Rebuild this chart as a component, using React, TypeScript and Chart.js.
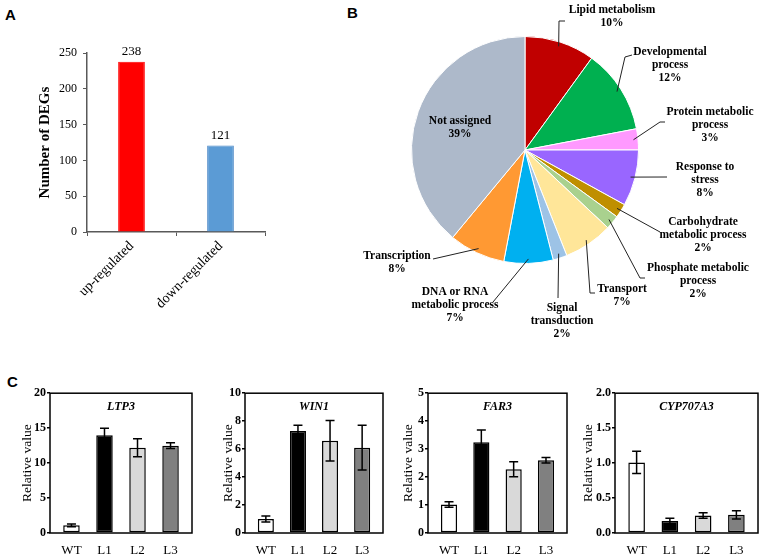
import { useEffect, useRef } from "react";
import { Chart, registerables } from "chart.js";

Chart.register(...registerables);

const SERIF = "'Liberation Serif', 'Times New Roman', serif";
const SANS = "'Liberation Sans', Arial, sans-serif";
Chart.defaults.font.family = SERIF;
Chart.defaults.color = "#000";

// ---------- Panel A: number of DEGs ----------
const degCategories = ["up-regulated", "down-regulated"];
const degCounts = [238, 121];
const degColors = ["#FF0000", "#5B9BD5"];
const degBorderColors = ["#FF0000", "#4A86C5"];
const degAxisMax = 250;
const degAxisStep = 50;

// ---------- Panel B: GO categories ----------
const goNames = [
  "Lipid metabolism",
  "Developmental process",
  "Protein metabolic process",
  "Response to stress",
  "Carbohydrate metabolic process",
  "Phosphate metabolic process",
  "Transport",
  "Signal transduction",
  "DNA or RNA metabolic process",
  "Transcription",
  "Not assigned",
];
const goPercents = [10, 12, 3, 8, 2, 2, 7, 2, 7, 8, 39];
const goColors = [
  "#C00000",
  "#00B050",
  "#FF99FF",
  "#9966FF",
  "#BF8F00",
  "#A9D18E",
  "#FFE699",
  "#9DC3E6",
  "#00B0F0",
  "#FF9933",
  "#ADB9CA",
];
const goLabelLines = [
  ["Lipid metabolism"],
  ["Developmental", "process"],
  ["Protein metabolic", "process"],
  ["Response to", "stress"],
  ["Carbohydrate", "metabolic process"],
  ["Phosphate metabolic", "process"],
  ["Transport"],
  ["Signal", "transduction"],
  ["DNA or RNA", "metabolic process"],
  ["Transcription"],
  ["Not assigned"],
];

// ---------- Panel C: qRT-PCR ----------
const qpcrSamples = ["WT", "L1", "L2", "L3"];
const qpcrColors = ["#FFFFFF", "#000000", "#D9D9D9", "#808080"];
const qpcrGenes = ["LTP3", "WIN1", "FAR3", "CYP707A3"];
const ltp3Means = [1.1, 14.0, 12.2, 12.5];
const ltp3Errors = [0.2, 1.0, 1.3, 0.4];
const win1Means = [1.0, 7.3, 6.6, 6.1];
const win1Errors = [0.22, 0.4, 1.45, 1.6];
const far3Means = [1.02, 3.25, 2.28, 2.6];
const far3Errors = [0.1, 0.43, 0.27, 0.1];
const cyp707a3Means = [1.01, 0.17, 0.25, 0.26];
const cyp707a3Errors = [0.16, 0.04, 0.04, 0.06];
const qpcrAxisMax = [20, 10, 5, 2];
const qpcrAxisStep = [5, 2, 1, 0.5];
const qpcrTickDecimals = [0, 0, 0, 1];

// ---------- Layout (not data) ----------
const panelABox = { left: 20, top: 40, width: 255, height: 290, axisWidth: 67, xAxisHeight: 98, padTop: 13, padRight: 10 };
const pieBox = { left: 290, top: 0, width: 474, height: 345, padLeft: 121, padRight: 125, padTop: 36, padBottom: 81 };
// label text centre (first line) and leader elbow points, relative to pie centre
const pieLabelLayout: { text: [number, number]; leader: [number, number][] }[] = [
  { text: [87, -140], leader: [[34, -129], [40, -129]] },
  { text: [145, -98], leader: [[100, -93], [107, -95]] },
  { text: [185, -38], leader: [[135, -28], [140, -28]] },
  { text: [180, 17], leader: [[142, 27]] },
  { text: [178, 72], leader: [[135, 82]] },
  { text: [173, 118], leader: [[115, 128], [120, 128]] },
  { text: [97, 139], leader: [[65, 143], [70, 143]] },
  { text: [37, 158], leader: [[33, 148]] },
  { text: [-70, 142], leader: [[-32, 152]] },
  { text: [-128, 106], leader: [[-92, 109]] },
  { text: [-65, -29], leader: [] },
];
const qpcrBoxes = [
  { left: 19, axisLeft: 50, axisRight: 192 },
  { left: 220, axisLeft: 245, axisRight: 383 },
  { left: 400, axisLeft: 428, axisRight: 567 },
  { left: 580, axisLeft: 615, axisRight: 758 },
];
const qpcrTop = 385;
const qpcrHeight = 170;

const valueLabelPlugin = {
  id: "valueLabels",
  afterDatasetsDraw(chart: any) {
    const ctx = chart.ctx;
    const meta = chart.getDatasetMeta(0);
    ctx.save();
    ctx.font = `13px ${SERIF}`;
    ctx.fillStyle = "#000";
    ctx.textAlign = "center";
    ctx.textBaseline = "middle";
    meta.data.forEach((bar: any, i: number) => {
      ctx.fillText(String(degCounts[i]), bar.x, bar.y - 10);
    });
    ctx.restore();
  },
};

const pieLabelsPlugin = {
  id: "pieLabels",
  afterDraw(chart: any) {
    const ctx = chart.ctx;
    const meta = chart.getDatasetMeta(0);
    ctx.save();
    ctx.font = `bold 11.5px ${SERIF}`;
    ctx.fillStyle = "#000";
    ctx.strokeStyle = "#222";
    ctx.lineWidth = 1;
    ctx.textAlign = "center";
    ctx.textBaseline = "middle";
    meta.data.forEach((arc: any, i: number) => {
      const { x, y, startAngle, endAngle, outerRadius } = arc.getProps(
        ["x", "y", "startAngle", "endAngle", "outerRadius"],
        true
      );
      const lay = pieLabelLayout[i];
      if (lay.leader.length) {
        const mid = (startAngle + endAngle) / 2;
        ctx.beginPath();
        ctx.moveTo(x + Math.cos(mid) * outerRadius * 0.96, y + Math.sin(mid) * outerRadius * 0.96);
        lay.leader.forEach(([dx, dy]) => ctx.lineTo(x + dx, y + dy));
        ctx.stroke();
      }
      const lines = [...goLabelLines[i], `${goPercents[i]}%`];
      lines.forEach((t, k) => ctx.fillText(t, x + lay.text[0], y + lay.text[1] + k * 12.8));
    });
    ctx.restore();
  },
};

function makeQpcrPlugin(gene: string, means: number[], errors: number[]) {
  return {
    id: "qpcrDecor",
    afterDatasetsDraw(chart: any) {
      const ctx = chart.ctx;
      const meta = chart.getDatasetMeta(0);
      const ys = chart.scales.y;
      ctx.save();
      ctx.strokeStyle = "#000";
      ctx.lineWidth = 1.5;
      meta.data.forEach((bar: any, i: number) => {
        const top = ys.getPixelForValue(means[i] + errors[i]);
        const bot = ys.getPixelForValue(Math.max(0, means[i] - errors[i]));
        const cap = 4.5;
        ctx.beginPath();
        ctx.moveTo(bar.x, top);
        ctx.lineTo(bar.x, bot);
        ctx.moveTo(bar.x - cap, top);
        ctx.lineTo(bar.x + cap, top);
        ctx.moveTo(bar.x - cap, bot);
        ctx.lineTo(bar.x + cap, bot);
        ctx.stroke();
      });
      ctx.restore();
    },
    afterDraw(chart: any) {
      const ctx = chart.ctx;
      const a = chart.chartArea;
      ctx.save();
      ctx.strokeStyle = "#000";
      ctx.lineWidth = 1.5;
      ctx.strokeRect(a.left, a.top, a.right - a.left, a.bottom - a.top);
      ctx.font = `italic bold 12px ${SERIF}`;
      ctx.fillStyle = "#000";
      ctx.textAlign = "center";
      ctx.textBaseline = "middle";
      ctx.fillText(gene, (a.left + a.right) / 2, a.top + 14);
      ctx.restore();
    },
  };
}

export default function App() {
  const aRef = useRef<HTMLCanvasElement | null>(null);
  const bRef = useRef<HTMLCanvasElement | null>(null);
  const cRefs = useRef<(HTMLCanvasElement | null)[]>([]);

  useEffect(() => {
    const charts: Chart[] = [];

    charts.push(
      new Chart(aRef.current as HTMLCanvasElement, {
        type: "bar",
        data: {
          labels: degCategories,
          datasets: [
            {
              data: degCounts,
              backgroundColor: degColors,
              borderColor: degBorderColors,
              borderWidth: 1,
              barPercentage: 0.3,
              categoryPercentage: 1,
            },
          ],
        },
        options: {
          animation: false,
          responsive: false,
          layout: { padding: { top: panelABox.padTop, right: panelABox.padRight, left: 0, bottom: 0 } },
          plugins: { legend: { display: false }, tooltip: { enabled: false } },
          scales: {
            x: {
              grid: { drawOnChartArea: false, tickLength: 4, color: "#595959" },
              border: { color: "#595959", width: 1.5 },
              ticks: { minRotation: 45, maxRotation: 45, color: "#000", font: { size: 14, family: SERIF }, padding: 2 },
              afterFit: (s: any) => {
                s.height = panelABox.xAxisHeight;
              },
            },
            y: {
              min: 0,
              max: degAxisMax,
              ticks: { stepSize: degAxisStep, color: "#000", font: { size: 12, family: SERIF }, padding: 6 },
              grid: { drawOnChartArea: false, tickLength: 4, color: "#595959" },
              border: { color: "#595959", width: 1.5 },
              title: {
                display: true,
                text: "Number of DEGs",
                color: "#000",
                font: { size: 15, weight: "bold", family: SERIF },
                padding: { top: 16, bottom: 0 },
              },
              afterFit: (s: any) => {
                s.width = panelABox.axisWidth;
              },
            },
          },
        },
        plugins: [valueLabelPlugin],
      } as any)
    );

    charts.push(
      new Chart(bRef.current as HTMLCanvasElement, {
        type: "pie",
        data: {
          labels: goNames,
          datasets: [
            {
              data: goPercents,
              backgroundColor: goColors,
              borderColor: "#FFFFFF",
              borderWidth: 1,
            },
          ],
        },
        options: {
          animation: false,
          responsive: false,
          layout: {
            padding: { left: pieBox.padLeft, right: pieBox.padRight, top: pieBox.padTop, bottom: pieBox.padBottom },
          },
          plugins: { legend: { display: false }, tooltip: { enabled: false } },
        },
        plugins: [pieLabelsPlugin],
      } as any)
    );

    const allMeans = [ltp3Means, win1Means, far3Means, cyp707a3Means];
    const allErrors = [ltp3Errors, win1Errors, far3Errors, cyp707a3Errors];
    qpcrGenes.forEach((gene, g) => {
      const box = qpcrBoxes[g];
      const means = allMeans[g];
      const errors = allErrors[g];
      charts.push(
        new Chart(cRefs.current[g] as HTMLCanvasElement, {
          type: "bar",
          data: {
            datasets: [
              {
                data: means.map((m, i) => ({ x: i, y: m })),
                backgroundColor: qpcrColors,
                borderColor: "#000",
                borderWidth: 1.5,
                borderSkipped: false,
                barPercentage: 0.5,
                categoryPercentage: 1,
              },
            ],
          },
          options: {
            animation: false,
            responsive: false,
            layout: { padding: { top: 8, right: 4, left: 0, bottom: 0 } },
            plugins: { legend: { display: false }, tooltip: { enabled: false } },
            scales: {
              x: {
                type: "linear",
                min: -0.65,
                max: qpcrSamples.length - 0.35,
                offset: false,
                grid: { display: false, offset: false },
                border: { display: false },
                afterBuildTicks: (s: any) => {
                  s.ticks = qpcrSamples.map((_, i) => ({ value: i }));
                },
                ticks: {
                  autoSkip: false,
                  maxRotation: 0,
                  padding: 2,
                  color: "#000",
                  font: { size: 13, family: SERIF },
                  callback: (v: any) => qpcrSamples[Number(v)] ?? "",
                },
                afterFit: (s: any) => {
                  s.height = 22;
                },
              },
              y: {
                min: 0,
                max: qpcrAxisMax[g],
                ticks: {
                  stepSize: qpcrAxisStep[g],
                  padding: 1,
                  color: "#000",
                  font: { size: 12, weight: "bold", family: SERIF },
                  callback: (v: any) => Number(v).toFixed(qpcrTickDecimals[g]),
                },
                grid: { drawOnChartArea: false, tickLength: 3, color: "#000", lineWidth: 1.5 },
                border: { display: false },
                title: {
                  display: true,
                  text: "Relative value",
                  color: "#000",
                  font: { size: 13.5, family: SERIF },
                  padding: 0,
                },
                afterFit: (s: any) => {
                  s.width = box.axisLeft - box.left;
                },
              },
            },
          },
          plugins: [makeQpcrPlugin(gene, means, errors)],
        } as any)
      );
    });

    return () => charts.forEach((c) => c.destroy());
  }, []);

  const letter = (left: number, top: number) => ({
    position: "absolute" as const,
    left,
    top,
    fontFamily: SANS,
    fontWeight: "bold" as const,
    fontSize: 15,
    lineHeight: "18px",
    color: "#000",
  });

  return (
    <div
      style={{
        position: "absolute",
        left: 0,
        top: 0,
        width: 764,
        height: 555,
        background: "#fff",
        overflow: "hidden",
      }}
    >
      <div style={letter(5, 6)}>A</div>
      <div style={letter(347, 4)}>B</div>
      <div style={letter(7, 373)}>C</div>
      <canvas
        ref={aRef}
        width={panelABox.width}
        height={panelABox.height}
        style={{ position: "absolute", left: panelABox.left, top: panelABox.top }}
      />
      <canvas
        ref={bRef}
        width={pieBox.width}
        height={pieBox.height}
        style={{ position: "absolute", left: pieBox.left, top: pieBox.top }}
      />
      {qpcrBoxes.map((b, g) => (
        <canvas
          key={qpcrGenes[g]}
          ref={(el) => {
            cRefs.current[g] = el;
          }}
          width={b.axisRight - b.left + 4}
          height={qpcrHeight}
          style={{ position: "absolute", left: b.left, top: qpcrTop }}
        />
      ))}
    </div>
  );
}
